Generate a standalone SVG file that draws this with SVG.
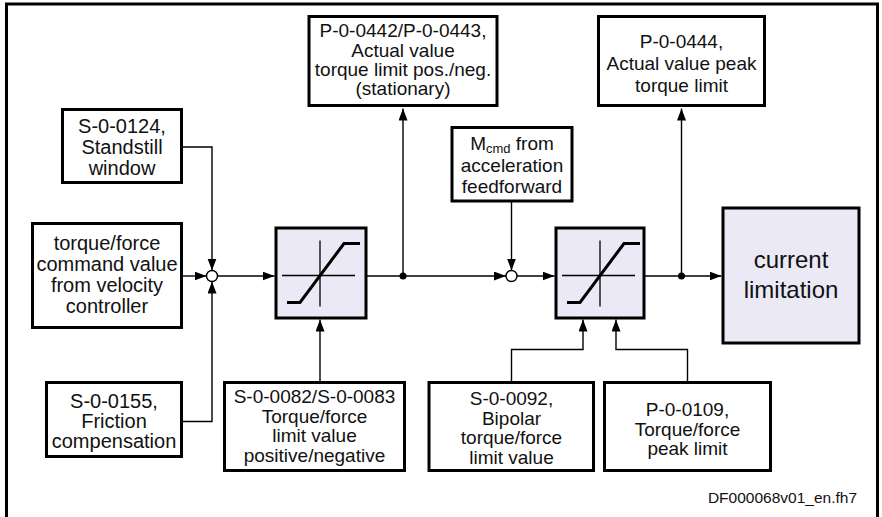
<svg xmlns="http://www.w3.org/2000/svg" width="882" height="517" viewBox="0 0 882 517">
  <style>
    .box { fill: #ffffff; stroke: #000; stroke-width: 3; }
    .blk { fill: #EAE9F5; stroke: #000; stroke-width: 3; }
    .ln { fill: none; stroke: #000; stroke-width: 1.4; }
    .ax { fill: none; stroke: #000; stroke-width: 1.3; }
    .curve { fill: none; stroke: #000; stroke-width: 3; stroke-linejoin: miter; }
    .sum { fill: #fff; stroke: #000; stroke-width: 1.4; }
    .dot { fill: #000; }
    text { font-family: "Liberation Sans", Arial, Helvetica, sans-serif; fill: #111; text-anchor: middle; }
    .t20 { font-size: 20px; }
    .t19 { font-size: 19px; }
    .t24 { font-size: 24px; }
    .foot { font-size: 15.5px; text-anchor: end; }
  </style>
  <defs>
    <marker id="arrow" markerUnits="userSpaceOnUse" markerWidth="12" markerHeight="10" refX="12" refY="4.5" orient="auto">
      <path d="M0,0 L12,4.5 L0,9 z" fill="#000"/>
    </marker>
    <!-- saturation characteristic drawn around its own centre -->
    <g id="satchar">
      <line class="ax" x1="-38" y1="0" x2="35" y2="0"/>
      <line class="ax" x1="0" y1="-35" x2="0" y2="31"/>
      <polyline class="curve" points="-33,27 -20,27 24,-32 40,-32"/>
    </g>
  </defs>

  <!-- frame -->
  <rect x="6.5" y="4" width="871" height="540" fill="none" stroke="#000" stroke-width="3"/>

  <!-- connectors -->
  <g id="connectors">
    <!-- inputs to first summing point -->
    <polyline class="ln" points="183,147 212,147 212,270.5" marker-end="url(#arrow)"/>
    <line class="ln" x1="183" y1="276" x2="206.5" y2="276" marker-end="url(#arrow)"/>
    <polyline class="ln" points="183,421.5 212,421.5 212,281.5" marker-end="url(#arrow)"/>
    <!-- summing point to limiter 1 -->
    <line class="ln" x1="217.5" y1="276" x2="274.5" y2="276" marker-end="url(#arrow)"/>
    <!-- limit value input to limiter 1 -->
    <line class="ln" x1="320" y1="381" x2="320" y2="319.5" marker-end="url(#arrow)"/>
    <!-- limiter 1 to second summing point -->
    <line class="ln" x1="366" y1="276" x2="506" y2="276" marker-end="url(#arrow)"/>
    <line class="ln" x1="403" y1="276" x2="403" y2="108.5" marker-end="url(#arrow)"/>
    <circle class="dot" cx="403" cy="276" r="3.5"/>
    <!-- feedforward input -->
    <line class="ln" x1="511.5" y1="202" x2="511.5" y2="270.5" marker-end="url(#arrow)"/>
    <!-- second summing point to limiter 2 -->
    <line class="ln" x1="517" y1="276" x2="554.5" y2="276" marker-end="url(#arrow)"/>
    <!-- limit inputs to limiter 2 -->
    <polyline class="ln" points="511.5,381 511.5,349.5 583,349.5 583,319.5" marker-end="url(#arrow)"/>
    <polyline class="ln" points="687.5,381 687.5,349.5 616,349.5 616,319.5" marker-end="url(#arrow)"/>
    <!-- limiter 2 to current limitation -->
    <line class="ln" x1="644" y1="276" x2="721.5" y2="276" marker-end="url(#arrow)"/>
    <line class="ln" x1="681.5" y1="276" x2="681.5" y2="108.5" marker-end="url(#arrow)"/>
    <circle class="dot" cx="681.5" cy="276" r="3.5"/>
  </g>

  <!-- summing points -->
  <g id="sum1"><circle class="sum" cx="212" cy="276" r="5.5"/></g>
  <g id="sum2"><circle class="sum" cx="511.5" cy="276" r="5.5"/></g>

  <g id="standstill">
    <rect class="box" x="62.5" y="109.5" width="119" height="73"/>
    <text class="t20" x="122" y="133">S-0-0124,</text>
    <text class="t20" x="122" y="154">Standstill</text>
    <text class="t20" x="122" y="175">window</text>
  </g>

  <g id="cmdvalue">
    <rect class="box" x="32.5" y="223.5" width="149" height="104"/>
    <text class="t20" x="107" y="250">torque/force</text>
    <text class="t20" x="107" y="271">command value</text>
    <text class="t20" x="107" y="292">from velocity</text>
    <text class="t20" x="107" y="313">controller</text>
  </g>

  <g id="friction">
    <rect class="box" x="46.5" y="382.5" width="135" height="74"/>
    <text class="t20" x="114" y="408">S-0-0155,</text>
    <text class="t20" x="114" y="428">Friction</text>
    <text class="t20" x="114" y="448">compensation</text>
  </g>

  <g id="limiter1">
    <rect class="blk" x="276" y="228" width="90" height="90"/>
    <use href="#satchar" x="320" y="275.5"/>
  </g>

  <g id="limitvalue">
    <rect class="box" x="224.5" y="382.5" width="180" height="88"/>
    <text class="t19" x="314.5" y="403">S-0-0082/S-0-0083</text>
    <text class="t19" x="314.5" y="422.5">Torque/force</text>
    <text class="t19" x="314.5" y="442">limit value</text>
    <text class="t19" x="314.5" y="461.5">positive/negative</text>
  </g>

  <g id="actualtorque">
    <rect class="box" x="309" y="16.5" width="188" height="89"/>
    <text class="t19" x="403" y="37">P-0-0442/P-0-0443,</text>
    <text class="t19" x="403" y="56.5">Actual value</text>
    <text class="t19" x="403" y="76">torque limit pos./neg.</text>
    <text class="t19" x="403" y="95">(stationary)</text>
  </g>

  <g id="feedforward">
    <rect class="box" x="452" y="127.5" width="120" height="73.5"/>
    <text class="t19" x="512" y="149.5">M<tspan font-size="13" dy="3">cmd</tspan><tspan dy="-3"> from</tspan></text>
    <text class="t19" x="512" y="171.5">acceleration</text>
    <text class="t19" x="512" y="193">feedforward</text>
  </g>

  <g id="limiter2">
    <rect class="blk" x="556" y="228" width="88" height="90"/>
    <use href="#satchar" x="600" y="275.5"/>
  </g>

  <g id="bipolar">
    <rect class="box" x="429" y="382.5" width="164.5" height="88"/>
    <text class="t19" x="511.5" y="405">S-0-0092,</text>
    <text class="t19" x="511.5" y="424.5">Bipolar</text>
    <text class="t19" x="511.5" y="444">torque/force</text>
    <text class="t19" x="511.5" y="463.5">limit value</text>
  </g>

  <g id="peaklimit">
    <rect class="box" x="604.5" y="382.5" width="166" height="88"/>
    <text class="t19" x="687.5" y="416">P-0-0109,</text>
    <text class="t19" x="687.5" y="435.5">Torque/force</text>
    <text class="t19" x="687.5" y="455">peak limit</text>
  </g>

  <g id="actualpeak">
    <rect class="box" x="598.5" y="16.5" width="166" height="89"/>
    <text class="t19" x="681.5" y="48">P-0-0444,</text>
    <text class="t19" x="681.5" y="70">Actual value peak</text>
    <text class="t19" x="681.5" y="92">torque limit</text>
  </g>

  <g id="currentlimit">
    <rect class="blk" x="723" y="208" width="136" height="135"/>
    <text class="t24" x="791" y="268">current</text>
    <text class="t24" x="791" y="298">limitation</text>
  </g>

  <text class="foot" x="857" y="503">DF000068v01_en.fh7</text>
</svg>
